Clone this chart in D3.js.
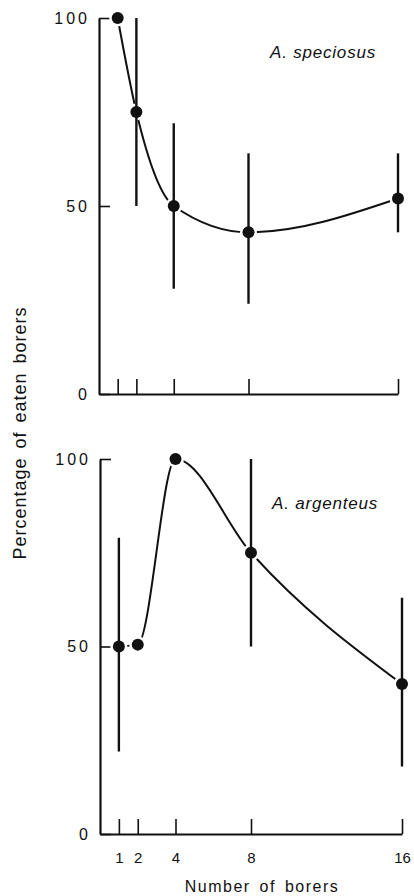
<!DOCTYPE html>
<html>
<head>
<meta charset="utf-8">
<script src="https://cdn.jsdelivr.net/npm/d3@7"></script>
<style>
  html, body { margin: 0; padding: 0; background: #fff; }
  svg { display: block; }
  text { font-family: "Liberation Sans", Arial, sans-serif; fill: #111; }
</style>
</head>
<body>
<div id="chart"></div>
<script>
// ---- data ----
const borers = [1, 2, 4, 8, 16];
const xTickLabels = ["1", "2", "4", "8", "16"];
const yTicks = [0, 50, 100];

const speciosusName = "A. speciosus";
const speciosusMean = [100, 75, 50, 43, 52];
const speciosusLow  = [null, 50, 28, 24, 43];
const speciosusHigh = [null, 100, 72, 64, 64];

const argenteusName = "A. argenteus";
const argenteusMean = [50, 50.5, 100, 75, 40];
const argenteusLow  = [22, null, null, 50, 18];
const argenteusHigh = [79, null, null, 100, 63];

const yTitle = "Percentage of eaten borers";
const xTitle = "Number of borers";

// ---- layout ----
const W = 414, H = 896;
const svg = d3.select("#chart").append("svg")
  .attr("width", W).attr("height", H);
svg.append("rect").attr("width", W).attr("height", H).attr("fill", "#fff");

const panels = [
  { name: speciosusName, mean: speciosusMean, low: speciosusLow, high: speciosusHigh,
    xr: [99, 398], yr: [394, 18], labelX: 270, labelY: 58, showX: false },
  { name: argenteusName, mean: argenteusMean, low: argenteusLow, high: argenteusHigh,
    xr: [100, 402], yr: [834, 459], labelX: 272, labelY: 509, showX: true }
];

panels.forEach(p => {
  const x = d3.scaleLinear().domain([0, 16]).range(p.xr);
  const y = d3.scaleLinear().domain([0, 100]).range(p.yr);
  const g = svg.append("g");

  // y axis
  const yAxis = d3.axisLeft(y).tickValues(yTicks).tickSizeInner(-11).tickSizeOuter(0).tickPadding(9);
  const ya = g.append("g").attr("transform", `translate(${x(0)},0)`).call(yAxis);
  ya.select(".domain").attr("stroke", "#111").attr("stroke-width", 2.2);
  ya.selectAll(".tick line").attr("stroke", "#111").attr("stroke-width", 1.6);
  ya.selectAll(".tick text")
    .style("font-family", '"Liberation Sans", Arial, sans-serif')
    .style("font-size", "16px").style("letter-spacing", "3px").attr("fill", "#111");

  // x axis
  const xAxis = d3.axisBottom(x).tickValues(borers).tickSizeInner(-15).tickSizeOuter(0).tickPadding(18)
    .tickFormat((d, i) => p.showX ? xTickLabels[i] : "");
  const xa = g.append("g").attr("transform", `translate(0,${y(0)})`).call(xAxis);
  xa.select(".domain").attr("stroke", "#111").attr("stroke-width", 2.2);
  xa.selectAll(".tick line").attr("stroke", "#111").attr("stroke-width", 1.6);
  xa.selectAll(".tick text")
    .style("font-family", '"Liberation Sans", Arial, sans-serif')
    .style("font-size", "15px").attr("fill", "#111");

  const pts = borers.map((b, i) => ({ b, m: p.mean[i], lo: p.low[i], hi: p.high[i] }));

  // smooth curve
  const line = d3.line().x(d => x(d.b)).y(d => y(d.m)).curve(d3.curveMonotoneX);
  g.append("path").datum(pts).attr("d", line)
    .attr("fill", "none").attr("stroke", "#111").attr("stroke-width", 2);

  // white halos to make gaps near points
  g.selectAll(".halo").data(pts).join("circle")
    .attr("cx", d => x(d.b)).attr("cy", d => y(d.m)).attr("r", 8.5).attr("fill", "#fff");

  // error bars
  g.selectAll(".err").data(pts.filter(d => d.lo != null)).join("line")
    .attr("x1", d => x(d.b)).attr("x2", d => x(d.b))
    .attr("y1", d => y(d.hi)).attr("y2", d => y(d.lo))
    .attr("stroke", "#111").attr("stroke-width", 2.4);

  // dots
  g.selectAll(".dot").data(pts).join("circle")
    .attr("cx", d => x(d.b)).attr("cy", d => y(d.m)).attr("r", 6).attr("fill", "#111");

  // species label
  g.append("text").attr("x", p.labelX).attr("y", p.labelY)
    .style("font-style", "italic").style("font-size", "17px").style("letter-spacing", "0.8px")
    .text(p.name);
});

// axis titles
svg.append("text")
  .attr("transform", "translate(26,433) rotate(-90)")
  .attr("text-anchor", "middle")
  .style("font-size", "18px").style("letter-spacing", "1px").style("word-spacing", "3px")
  .text(yTitle);

svg.append("text")
  .attr("x", 262).attr("y", 892)
  .attr("text-anchor", "middle")
  .style("font-size", "16px").style("letter-spacing", "1.5px").style("word-spacing", "3px")
  .text(xTitle);
</script>
</body>
</html>
